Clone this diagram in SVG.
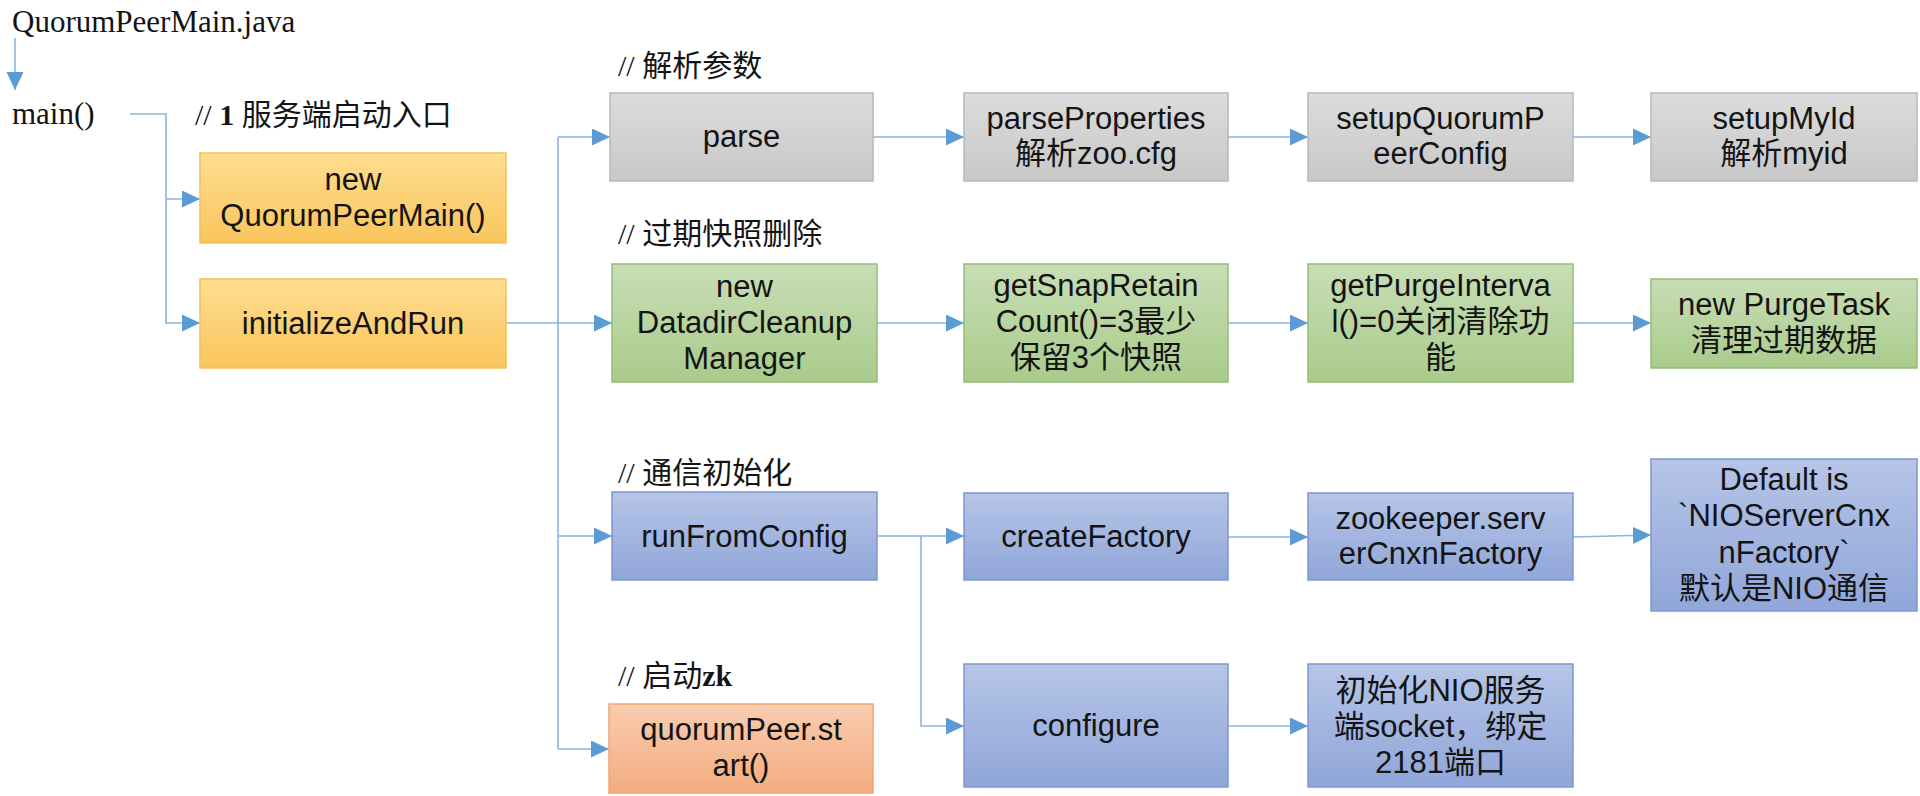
<svg xmlns="http://www.w3.org/2000/svg" width="1920" height="796" viewBox="0 0 1920 796">
<defs>
  <linearGradient id="gGray" x1="0" y1="0" x2="0" y2="1"><stop offset="0" stop-color="#DCDCDC"/><stop offset="1" stop-color="#C8C8C8"/></linearGradient>
  <linearGradient id="gGreen" x1="0" y1="0" x2="0" y2="1"><stop offset="0" stop-color="#C8DEB6"/><stop offset="1" stop-color="#A9CB8B"/></linearGradient>
  <linearGradient id="gBlue" x1="0" y1="0" x2="0" y2="1"><stop offset="0" stop-color="#B6C5E7"/><stop offset="1" stop-color="#90A6D9"/></linearGradient>
  <linearGradient id="gYellow" x1="0" y1="0" x2="0" y2="1"><stop offset="0" stop-color="#FFDD90"/><stop offset="1" stop-color="#F9C55C"/></linearGradient>
  <linearGradient id="gSalmon" x1="0" y1="0" x2="0" y2="1"><stop offset="0" stop-color="#F9CDB0"/><stop offset="1" stop-color="#F2AC7F"/></linearGradient>
  <marker id="arr" markerUnits="userSpaceOnUse" markerWidth="19" markerHeight="18" refX="18" refY="8.5" orient="auto">
    <path d="M0,0 L18,8.5 L0,17 Z" fill="#5B9BD5"/>
  </marker>
  <style>
    .gray{fill:url(#gGray);stroke:#B8B8B8;stroke-width:1.5}
    .green{fill:url(#gGreen);stroke:#95BD75;stroke-width:1.5}
    .blue{fill:url(#gBlue);stroke:#7F96CF;stroke-width:1.5}
    .yellow{fill:url(#gYellow);stroke:#F2C158;stroke-width:1.5}
    .salmon{fill:url(#gSalmon);stroke:#EFA676;stroke-width:1.5}
    .t{font-family:"Liberation Sans","Noto Sans CJK SC",sans-serif;font-size:31px;fill:#141414;text-anchor:middle}
    .s{font-family:"Liberation Serif","Noto Sans CJK SC",serif;font-size:31px;fill:#141414}
    .h{font-family:"Liberation Serif","Noto Sans CJK SC",serif;font-size:30px;fill:#141414}
    .c{fill:none;stroke:#8DB3E2;stroke-width:1.6}
    .ca{fill:none;stroke:#8DB3E2;stroke-width:1.6;marker-end:url(#arr)}
  </style>
</defs>
<rect width="1920" height="796" fill="#FFFFFF"/>

<g id="labels">
  <text class="s" x="12" y="32">QuorumPeerMain.java</text>
  <text class="s" x="12" y="124">main()</text>
  <text class="h" x="195" y="125">// <tspan font-weight="bold">1</tspan> 服务端启动入口</text>
  <text class="h" x="618" y="76">// 解析参数</text>
  <text class="h" x="618" y="244">// 过期快照删除</text>
  <text class="h" x="618" y="483">// 通信初始化</text>
  <text class="h" x="618" y="686">// 启动<tspan font-weight="bold">zk</tspan></text>
</g>

<g id="connectors">
  <path class="ca" d="M15,38 V90"/>
  <path class="ca" d="M130,114 H166 V323 H200"/>
  <path class="ca" d="M166,199 H200"/>
  <path class="c" d="M506,323 H558"/>
  <path class="c" d="M558,137 V749"/>
  <path class="ca" d="M558,137 H610"/>
  <path class="ca" d="M558,323 H612"/>
  <path class="ca" d="M558,536 H612"/>
  <path class="ca" d="M558,749 H609"/>
  <path class="ca" d="M873,137 H964"/>
  <path class="ca" d="M877,323 H964"/>
  <path class="ca" d="M877,536 H964"/>
  <path class="ca" d="M921,536 V726 H964"/>
  <path class="ca" d="M1228,137 H1308"/>
  <path class="ca" d="M1228,323 H1308"/>
  <path class="ca" d="M1228,537 H1308"/>
  <path class="ca" d="M1228,726 H1308"/>
  <path class="ca" d="M1573,137 H1651"/>
  <path class="ca" d="M1573,323 H1651"/>
  <path class="ca" d="M1573,537 L1651,535"/>
</g>

<g id="n_new">
  <rect class="yellow" x="200" y="153" width="306" height="90"/>
  <text class="t" x="353" y="190">new</text>
  <text class="t" x="353" y="226">QuorumPeerMain()</text>
</g>
<g id="n_init">
  <rect class="yellow" x="200" y="279" width="306" height="89"/>
  <text class="t" x="353" y="334">initializeAndRun</text>
</g>

<g id="n_parse">
  <rect class="gray" x="610" y="93" width="263" height="88"/>
  <text class="t" x="741.5" y="147">parse</text>
</g>
<g id="n_datadir">
  <rect class="green" x="612" y="264" width="265" height="118"/>
  <text class="t" x="744.5" y="297">new</text>
  <text class="t" x="744.5" y="333">DatadirCleanup</text>
  <text class="t" x="744.5" y="369">Manager</text>
</g>
<g id="n_run">
  <rect class="blue" x="612" y="492" width="265" height="88"/>
  <text class="t" x="744.5" y="547">runFromConfig</text>
</g>
<g id="n_start">
  <rect class="salmon" x="609" y="704" width="264" height="89"/>
  <text class="t" x="741" y="740">quorumPeer.st</text>
  <text class="t" x="741" y="776">art()</text>
</g>

<g id="n_parseProps">
  <rect class="gray" x="964" y="93" width="264" height="88"/>
  <text class="t" x="1096" y="129">parseProperties</text>
  <text class="t" x="1096" y="164">解析zoo.cfg</text>
</g>
<g id="n_snap">
  <rect class="green" x="964" y="264" width="264" height="118"/>
  <text class="t" x="1096" y="296">getSnapRetain</text>
  <text class="t" x="1096" y="332">Count()=3最少</text>
  <text class="t" x="1096" y="368">保留3个快照</text>
</g>
<g id="n_create">
  <rect class="blue" x="964" y="493" width="264" height="87"/>
  <text class="t" x="1096" y="547">createFactory</text>
</g>
<g id="n_configure">
  <rect class="blue" x="964" y="664" width="264" height="123"/>
  <text class="t" x="1096" y="736">configure</text>
</g>

<g id="n_setupQ">
  <rect class="gray" x="1308" y="93" width="265" height="88"/>
  <text class="t" x="1440.5" y="129">setupQuorumP</text>
  <text class="t" x="1440.5" y="164">eerConfig</text>
</g>
<g id="n_purgeInt">
  <rect class="green" x="1308" y="264" width="265" height="118"/>
  <text class="t" x="1440.5" y="296">getPurgeInterva</text>
  <text class="t" x="1440.5" y="332">l()=0关闭清除功</text>
  <text class="t" x="1440.5" y="368">能</text>
</g>
<g id="n_zkfactory">
  <rect class="blue" x="1308" y="493" width="265" height="87"/>
  <text class="t" x="1440.5" y="529">zookeeper.serv</text>
  <text class="t" x="1440.5" y="564">erCnxnFactory</text>
</g>
<g id="n_nio">
  <rect class="blue" x="1308" y="664" width="265" height="123"/>
  <text class="t" x="1440.5" y="701">初始化NIO服务</text>
  <text class="t" x="1440.5" y="737">端socket，绑定</text>
  <text class="t" x="1440.5" y="773">2181端口</text>
</g>

<g id="n_myid">
  <rect class="gray" x="1651" y="93" width="266" height="88"/>
  <text class="t" x="1784" y="129">setupMyId</text>
  <text class="t" x="1784" y="164">解析myid</text>
</g>
<g id="n_purgeTask">
  <rect class="green" x="1651" y="279" width="266" height="89"/>
  <text class="t" x="1784" y="315">new PurgeTask</text>
  <text class="t" x="1784" y="351">清理过期数据</text>
</g>
<g id="n_default">
  <rect class="blue" x="1651" y="459" width="266" height="152"/>
  <text class="t" x="1784" y="490">Default is</text>
  <text class="t" x="1784" y="526">`NIOServerCnx</text>
  <text class="t" x="1784" y="563">nFactory`</text>
  <text class="t" x="1784" y="599">默认是NIO通信</text>
</g>
</svg>
